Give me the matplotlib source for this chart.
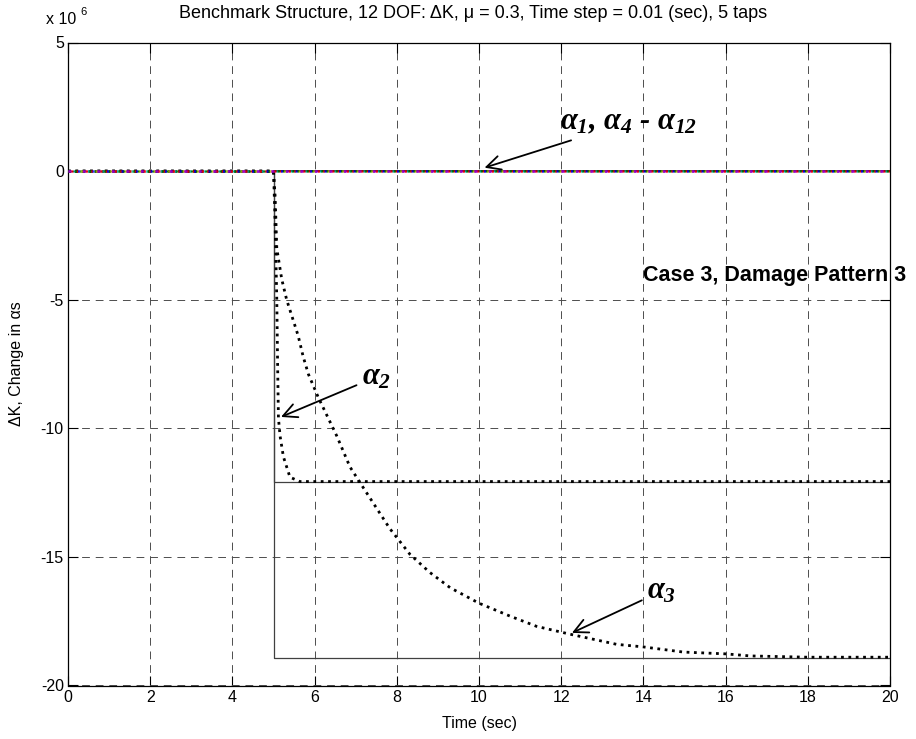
import numpy as np
import matplotlib
matplotlib.use("Agg")
import matplotlib.pyplot as plt

# estimated alpha_2 (dotted), units of 1e6
t_a2 = [0, 5.0, 5.03, 5.06, 5.08, 5.10, 5.12, 5.16, 5.24, 5.40, 5.64, 6.0, 20.0]
a2_est = [0, 0, -1.5, -3.5, -5.0, -7.5, -9.6, -10.3, -11.1, -11.9, -12.07, -12.07, -12.07]

# estimated alpha_3 (dotted)
t_a3 = [0, 5.0, 5.04, 5.08, 5.20, 5.32, 5.60, 5.72, 5.85, 6.09, 6.54, 6.86, 7.10,
        7.83, 8.32, 8.80, 9.30, 10.0, 10.75, 11.4, 12.2, 13.35, 14.0, 14.97,
        16.0, 16.6, 18.0, 20.0]
a3_est = [0, 0, -1.0, -3.0, -4.2, -5.0, -6.4, -7.2, -7.9, -8.8, -10.3, -11.5, -12.1,
          -13.9, -14.9, -15.6, -16.2, -16.8, -17.3, -17.7, -18.0, -18.4, -18.5, -18.7,
          -18.77, -18.85, -18.9, -18.9]

# true stiffness changes (solid), step at t = 5 s
t_true = [5.0, 5.0, 20.0]
a2_true = [0, -12.07, -12.07]
a3_true = [0, -18.94, -18.94]

# undamaged alphas (1, 4..12) stay at zero
t_zero = [0.0, 20.0]
zero_names = ['a1', 'a4', 'a5', 'a6', 'a7', 'a8', 'a9', 'a10', 'a11', 'a12']
zero_vals = {n: [0.0, 0.0] for n in zero_names}
zero_colors = ['b', 'g', 'r', 'c', 'm', 'y', 'b', 'g', 'r', 'm']

xticks = np.arange(0, 21, 2)
yticks = np.arange(-20, 6, 5)

plt.rcParams['font.family'] = ['Liberation Sans', 'DejaVu Sans']
plt.rcParams['axes.unicode_minus'] = False
plt.rcParams['mathtext.fontset'] = 'custom'
plt.rcParams['mathtext.rm'] = 'Liberation Serif:italic:bold'
plt.rcParams['mathtext.it'] = 'Liberation Serif:italic:bold'
plt.rcParams['mathtext.bf'] = 'Liberation Serif:italic:bold'

fig = plt.figure(figsize=(9.16, 7.39), dpi=100)
ax = fig.add_axes([68/916, 1 - 685.5/739, 822/916, 643/739])

ax.plot([0, 5], [0, 0], color='k', ls=':', lw=1.8, zorder=2)
ax.plot([5, 20], [0, 0], color='k', lw=1.3, zorder=4)
for i, n in enumerate(zero_names):
    ax.plot(t_zero, zero_vals[n], color=zero_colors[i], lw=1.8, alpha=0.8,
            ls=(i * 1.3, (0.8, 5)), zorder=5)

ax.plot(t_true, a2_true, color='0.25', lw=0.9, zorder=2)
ax.plot(t_true, a3_true, color='0.25', lw=0.9, zorder=2)
ax.plot(t_a2, a2_est, color='k', ls=':', lw=2.0, zorder=3)
ax.plot(t_a3, a3_est, color='k', ls=':', lw=2.0, zorder=3)

ax.set_xlim(0, 20)
ax.set_ylim(-20, 5)
ax.set_xticks(xticks)
ax.set_yticks(yticks)
ax.tick_params(direction='in', length=7, width=0.8, top=True, right=True,
               labelsize=11.5, pad=3)
ax.grid(True, color='0.3', ls=(0, (8, 6)), lw=0.7)
for s in ax.spines.values():
    s.set_linewidth(0.9)

ax.set_xlabel('Time (sec)', fontsize=11.5, labelpad=8)
ax.set_ylabel('\u0394K, Change in \u03b1s', fontsize=11.5, labelpad=12)
fig.text(473/916, 1 - 14/739,
         'Benchmark Structure, 12 DOF: \u0394K, \u03bc = 0.3, Time step = 0.01 (sec), 5 taps',
         ha='center', va='center', fontsize=13)
fig.text(46/916, 1 - 19/739, 'x 10', ha='left', va='center', fontsize=11.5)
fig.text(80/916, 1 - 12/739, '6', ha='left', va='center', fontsize=8)

afont = dict(family=['Liberation Serif', 'DejaVu Serif'], style='italic',
             weight='bold', fontsize=22)
arrow = dict(arrowstyle='->', color='k', lw=1.3, mutation_scale=25)
ax.annotate(r'$\alpha_1$, $\alpha_4$ - $\alpha_{12}$', xy=(10.07, 0.1), xytext=(11.97, 1.9),
            ha='left', va='center', arrowprops=arrow, **afont)
ax.annotate(r'$\alpha_2$', xy=(5.12, -9.6), xytext=(7.15, -8.0),
            ha='left', va='center', arrowprops=arrow, **afont)
ax.annotate(r'$\alpha_3$', xy=(12.2, -18.0), xytext=(14.09, -16.33),
            ha='left', va='center', arrowprops=arrow, **afont)

ax.text(13.99, -4.05, 'Case 3, Damage Pattern 3', fontsize=15.5, weight='bold',
        ha='left', va='center', clip_on=False)

fig.savefig('out.png', dpi=100)
